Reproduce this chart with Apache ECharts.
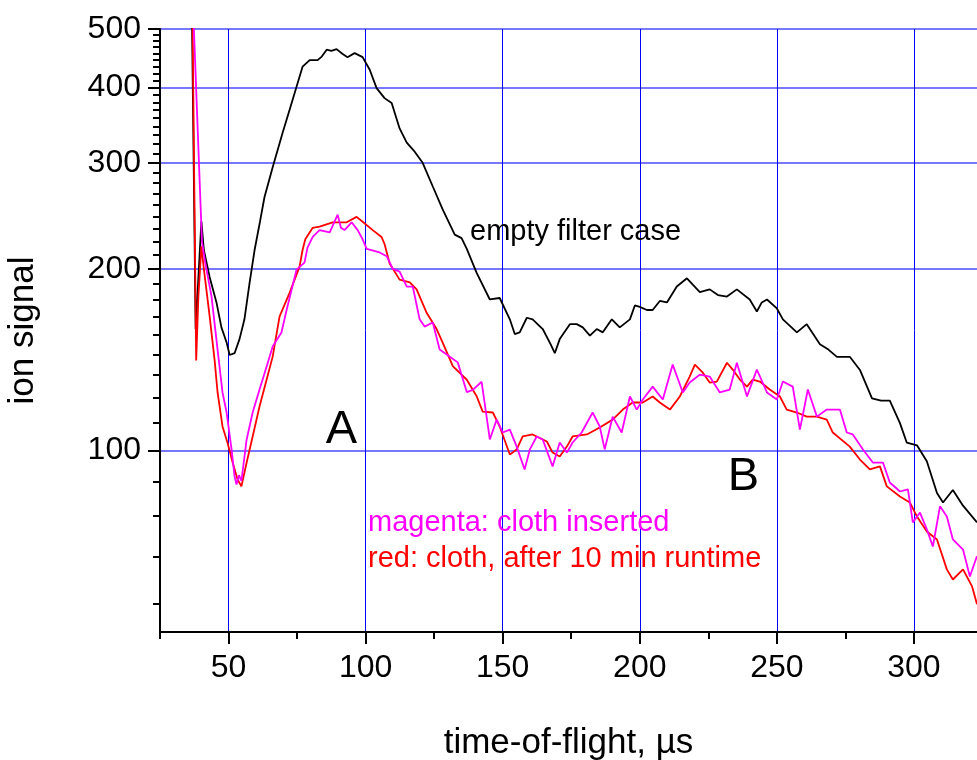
<!DOCTYPE html>
<html>
<head>
<meta charset="utf-8">
<script src="https://cdn.jsdelivr.net/npm/echarts@6/dist/echarts.min.js"></script>
<style>
html,body{margin:0;padding:0;background:#fff;}
#chart{width:977px;height:760px;}
</style>
</head>
<body>
<div id="chart"></div>
<script>
// ---- data (time-of-flight in µs, ion signal) ----
const emptyFilter = [
[36.5,600],[38.0,159],[40.1,240],[41.0,215],[43.1,194],[45.6,176],[47.4,160],[49.3,151],[50.4,144],[52.2,145],[54.0,153],[55.8,165],[57.7,190],[59.5,215],[61.5,240],[63.1,263],[66.1,295],[69.7,336],[72.5,370],[74.8,401],[77.0,433],[79.6,444],[82.5,444],[84.0,450],[85.8,462],[87.5,460],[89.4,463],[91.5,455],[93.4,449],[96.0,456],[98.9,449],[101.5,428],[104.0,399],[106.9,384],[109.5,377],[112.4,342],[115.0,324],[117.9,313],[120.8,300],[124.5,274],[128.1,251],[132.5,228],[135.0,225],[136.9,216],[140.5,197],[145.3,178],[148.9,179],[152.6,165],[154.4,156],[156.2,157],[158.8,166],[160.9,165],[164.6,159],[167.5,150],[169.0,145],[170.8,153],[174.5,162],[177.0,162],[179.2,160],[181.8,155],[184.3,159],[186.5,157],[189.8,165],[192.7,160],[196.4,165],[198.2,174],[200.0,173],[202.6,171],[204.7,171],[207.3,177],[209.9,176],[213.5,187],[217.2,193],[219.5,188],[221.9,183],[225.5,185],[228.5,181],[231.8,180],[235.4,185],[240.1,178],[242.7,170],[244.5,176],[246.4,178],[250.0,172],[252.2,165],[257.3,157],[260.9,162],[265.7,150],[268.8,147],[271.9,143],[276.6,143],[280.3,136],[284.7,122],[288.0,121],[291.2,121],[294.9,111],[297.4,103],[301.1,102],[304.7,96],[308.4,85],[310.6,82],[314.2,86],[317.9,81],[323.0,76]
];
const clothAfter10min = [
[36.7,600],[38.2,141],[39.0,180],[40.1,218],[41.0,200],[43.1,167],[44.9,141.5],[46.0,124.8],[47.8,109.6],[49.6,103.1],[51.5,95.5],[53.3,89.5],[54.7,87.2],[56.6,95.5],[58.8,105.5],[61.3,118.3],[63.9,131.1],[66.1,143.1],[68.6,166.7],[72.3,182.7],[75.9,201.8],[77.0,215],[78.0,224],[80.7,234],[83.2,235],[88.0,239],[93.1,239],[96.7,244],[98.9,239.5],[102.6,232],[105.8,226],[106.9,220],[108.8,204],[112.4,192],[116.1,190],[118.6,185],[122.3,169],[125.9,159],[128.1,151],[131.8,138],[136.9,131],[140.5,123],[142.7,116],[146.4,115.6],[148.9,109.6],[152.6,98.5],[155.1,100.4],[157.3,105.5],[160.9,106.3],[166.1,103.5],[168.2,99.2],[170.8,97.7],[173.4,101.5],[175.5,105.5],[180.7,106.3],[185.4,109.2],[190.1,112.5],[193.8,116.9],[197.4,120.1],[201.1,120.1],[204.7,122.9],[207.3,120.1],[211.0,116.9],[214.6,122.9],[218.2,132.6],[220.1,138.8],[223.0,134.6],[225.5,129.6],[228.1,130.1],[231.8,139.8],[233.9,136.2],[236.5,131.1],[239.1,127.6],[241.2,131.1],[243.8,130.1],[247.4,126.2],[251.1,122.9],[253.6,116.9],[257.3,115.6],[260.9,113.8],[264.6,113.8],[268.2,112.5],[270.4,107.1],[276.6,101.5],[280.3,96.6],[283.9,93.0],[287.6,94.1],[290.1,87.2],[294.9,83.9],[298.5,82.0],[301.1,77.7],[304.7,73.4],[308.4,71.2],[312.0,63.5],[314.2,61.1],[317.9,63.5],[321.2,59.5],[323.0,55.6]
];
const clothInserted = [
[36.7,600],[40.3,222],[41.5,205],[43.8,180],[46.0,147],[47.8,124.8],[49.3,115.6],[51.1,100.4],[52.2,90.6],[52.9,87.8],[53.8,91],[54.7,89],[56.6,104.3],[58.8,115.6],[61.3,126.2],[63.9,137.8],[66.1,148.7],[69.3,156.9],[71.2,171.2],[74.8,199.5],[77.7,204.9],[78.8,217],[80.7,226],[83.2,232],[86.9,230],[89.8,246],[91.0,234],[92.3,232],[94.9,239],[97.1,232],[98.9,224],[100.4,216],[105.1,213],[107.7,210],[109.9,200],[112.4,198],[115.0,187],[117.2,187],[119.7,165],[121.5,160.5],[124.5,163],[127.0,147],[130.7,143],[133.6,140],[136.9,125],[139.1,126],[142.3,130],[143.4,120],[145.3,104.3],[147.8,112.5],[150.0,107.1],[152.6,108.3],[155.1,101.5],[158.0,93.0],[159.9,100.4],[162.4,105.5],[164.6,104.3],[168.2,94.1],[170.8,103.1],[173.4,99.2],[175.5,103.1],[178.8,107.1],[182.8,115.6],[185.4,109.6],[187.2,100.4],[190.1,113.8],[193.4,107.1],[196.4,122.9],[198.9,116.9],[201.1,121.5],[204.7,127.6],[208.4,121.5],[212.0,138.8],[215.7,124.8],[218.2,129.6],[221.9,133.6],[225.5,132.6],[229.2,124.8],[232.8,126.2],[235.4,139.8],[239.1,122.9],[242.7,136.2],[246.4,124.8],[250.0,121.5],[252.2,130.1],[255.8,127.6],[258.4,108.3],[261.3,126.2],[264.6,113.8],[268.2,116.9],[273.0,116.9],[275.5,107.1],[277.7,106.3],[281.4,100.4],[285.0,95.5],[288.7,95.5],[291.2,88.5],[294.9,85.5],[297.8,86.2],[299.6,76.0],[302.2,78.9],[304.7,74.0],[306.9,69.3],[309.5,80.8],[312.0,77.7],[314.2,71.2],[317.9,68.5],[320.4,61.8],[323.0,66.8]
];

// ---- ticks ----
const xMajorTicks = [50,100,150,200,250,300];
const xMinorTicks = [25,75,125,175,225,275];
const yMajorTicks = [100,200,300,400,500];
const yMinorTicks = [55.6,66.7,77.8,88.9,111.1,122.2,133.3,144.4,155.6,166.7,177.8,188.9,211.1,222.2,233.3,244.4,255.6,266.7,277.8,288.9,311.1,322.2,333.3,344.4,355.6,366.7,377.8,388.9,411.1,422.2,433.3,444.4,455.6,466.7,477.8,488.9];

const FONT = '"Liberation Sans", Arial, sans-serif';
const chart = echarts.init(document.getElementById('chart'), null, {renderer:'canvas'});

function txt(text, x, y, size, color, align) {
  return {type:'text', x:x, y:y, z:100, style:{text:text, fill:color, font: size+'px '+FONT,
    align:align||'left', verticalAlign:'middle', textAlign:align||'left', textVerticalAlign:'middle'}};
}

const option = {
  animation:false,
  backgroundColor:'#ffffff',
  grid:{left:160, right:0, top:29, bottom:128, containLabel:false, outerBoundsMode:'none'},
  xAxis:[
    {type:'value', min:25, max:323, position:'bottom',
     name:'time-of-flight, µs', nameLocation:'middle', nameGap:94,
     nameTextStyle:{fontFamily:FONT, fontSize:35, color:'#000'},
     axisLine:{show:true, onZero:false, lineStyle:{color:'#000', width:2}},
     axisTick:{show:true, customValues:xMajorTicks, length:12, lineStyle:{color:'#000', width:2}},
     axisLabel:{show:true, customValues:xMajorTicks, margin:20, fontFamily:FONT, fontSize:32, color:'#000'},
     splitLine:{show:true, lineStyle:{color:'#0000ff', width:1}}},
    {type:'value', min:25, max:323, position:'bottom',
     axisLine:{show:false, onZero:false},
     axisTick:{show:true, customValues:xMinorTicks, length:7, lineStyle:{color:'#000', width:2}},
     axisLabel:{show:false}, splitLine:{show:false}}
  ],
  yAxis:[
    {type:'log', logBase:10, min:50, max:500, position:'left',
     name:'ion signal', nameLocation:'middle', nameGap:119,
     nameTextStyle:{fontFamily:FONT, fontSize:35, color:'#000'},
     axisLine:{show:true, onZero:false, lineStyle:{color:'#000', width:2}},
     axisTick:{show:true, customValues:yMajorTicks, length:12, lineStyle:{color:'#000', width:2}},
     axisLabel:{show:true, customValues:yMajorTicks, margin:19, fontFamily:FONT, fontSize:32, color:'#000'},
     splitLine:{show:true, lineStyle:{color:'#4a4aff', width:1.5}},
     minorTick:{show:false}},
    {type:'log', logBase:10, min:50, max:500, position:'left',
     axisLine:{show:false, onZero:false},
     axisTick:{show:true, customValues:yMinorTicks, length:7, lineStyle:{color:'#000', width:2}},
     axisLabel:{show:false}, splitLine:{show:false}}
  ],
  series:[
    {name:'empty filter case', type:'line', data:emptyFilter, xAxisIndex:0, yAxisIndex:0,
     showSymbol:false, symbol:'none', clip:true, lineStyle:{color:'#000000', width:1.8}, z:3},
    {name:'red: cloth, after 10 min runtime', type:'line', data:clothAfter10min, xAxisIndex:0, yAxisIndex:0,
     showSymbol:false, symbol:'none', clip:true, lineStyle:{color:'#ff0000', width:1.8}, z:4},
    {name:'magenta: cloth inserted', type:'line', data:clothInserted, xAxisIndex:0, yAxisIndex:0,
     showSymbol:false, symbol:'none', clip:true, lineStyle:{color:'#ff00ff', width:1.8}, z:5}
  ],
  graphic:[
    txt('empty filter case', 470, 232, 29, '#000'),
    txt('A', 341.5, 430, 47, '#000', 'center'),
    txt('B', 743.5, 477, 47, '#000', 'center'),
    txt('magenta: cloth inserted', 368, 523, 29, '#ff00ff'),
    txt('red: cloth, after 10 min runtime', 368, 559, 29, '#ff0000')
  ]
};
chart.setOption(option);
</script>
</body>
</html>
